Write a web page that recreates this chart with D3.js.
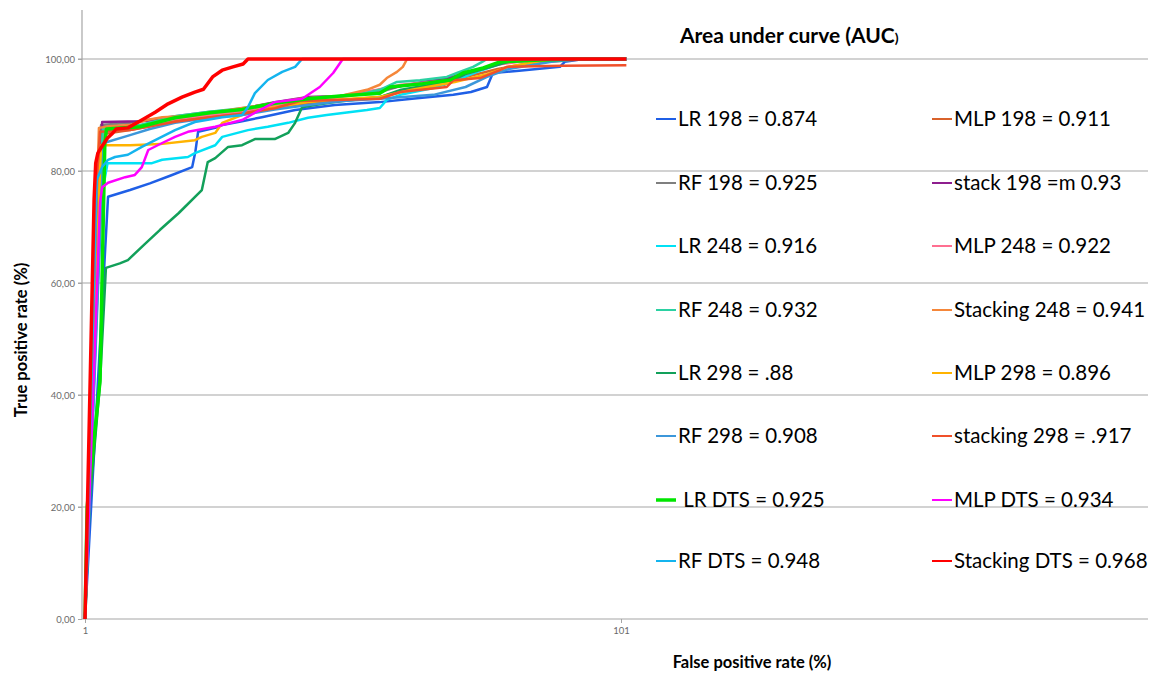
<!DOCTYPE html>
<html>
<head>
<meta charset="utf-8">
<script src="https://cdn.jsdelivr.net/npm/d3@7"></script>
<style>
  body { margin: 0; background: #fff; }
  svg { display: block; }
</style>
</head>
<body>
<svg id="chart" width="1150" height="674"></svg>
<script>
// ---- axis ticks ----
const yTicks = [0, 20, 40, 60, 80, 100];
const yTickLabels = ["0,00", "20,00", "40,00", "60,00", "80,00", "100,00"];
const xTicks = [1, 101];
const xTickLabels = ["1", "101"];

// ---- ROC curves: [false positive rate, true positive rate (%)] ----
const lr198 = [[1,0],[5.3,75.4],[9.4,76.6],[13.1,77.8],[17.0,79.2],[21.0,80.7],[21.6,83.5],[22.1,87.0],[25.3,87.7],[26.6,88.2],[30.3,88.9],[34.0,89.6],[40.2,90.9],[47.6,91.8],[56.0,92.3],[62.0,92.9],[69.7,93.6],[73.0,94.1],[76.0,95.0],[77.1,97.5],[82.0,97.9],[89.6,98.6],[90.5,99.5],[94.0,100],[102,100]];
const mlp198 = [[1,0],[4.4,86.6],[9.4,87.3],[13.1,88.0],[17.8,89.0],[24.3,89.8],[30.3,90.4],[36.4,91.4],[42.6,92.1],[49.0,92.7],[56.0,93.2],[60.0,94.3],[68.0,95.4],[72.0,96.8],[78.0,98.2],[84.0,99.3],[92.0,99.8],[96,100],[102,100]];
const rf198 = [[1,0],[4.0,88.2],[9.4,88.6],[17.8,89.8],[24.3,90.6],[30.3,91.0],[36.4,92.0],[42.6,93.0],[49.0,93.4],[56.0,94.1],[60.0,95.2],[69.1,96.5],[73.0,97.7],[78.4,99.3],[86.0,99.8],[90,100],[102,100]];
const stack198 = [[1,0],[4.2,88.75],[11.3,88.9],[14.1,89.1],[17.8,89.5],[24.3,90.4],[30.3,91.1],[36.4,92.3],[42.6,93.2],[48.6,93.4],[57.9,94.8],[64.0,95.9],[69.1,96.7],[76.0,98.6],[80.0,99.6],[88,100],[102,100]];
const lr248 = [[1,0],[4.0,75.0],[5.2,81.4],[13.5,81.4],[15.4,82.0],[20.2,82.5],[21.5,83.2],[25.3,84.6],[26.6,86.1],[31.4,87.3],[35.1,87.9],[38.9,88.6],[42.6,89.5],[46.1,90.0],[53.6,90.9],[56.0,91.25],[57.3,92.7],[59.8,93.6],[66.0,94.8],[71.0,96.5],[75.0,98.0],[79.0,99.3],[85.0,99.8],[90,100],[102,100]];
const mlp248 = [[1,0],[3.8,80.0],[4.5,87.0],[9.4,87.5],[17.8,89.3],[24.3,90.0],[30.3,90.7],[36.4,91.8],[42.6,92.5],[50.0,93.4],[56.0,94.6],[60.0,95.4],[69.1,96.2],[72.0,97.3],[78.0,99.0],[86.0,100],[102,100]];
const rf248 = [[1,0],[4.3,87.5],[11.3,88.2],[17.8,89.8],[24.3,90.6],[30.3,91.2],[36.4,92.1],[42.6,93.0],[52.0,93.6],[56.0,94.5],[59.2,95.9],[63.5,96.2],[68.5,96.8],[70.4,97.5],[73.4,98.6],[75.1,99.5],[76.0,100],[102,100]];
const stacking248 = [[1,0],[3.6,87.7],[5.5,88.0],[9.4,88.2],[12.5,89.1],[15.4,89.6],[20.2,89.8],[25.3,90.5],[30.3,91.25],[36.4,92.1],[41.1,92.9],[48.6,93.4],[53.6,94.5],[56.0,95.4],[57.3,96.6],[59.2,97.7],[60.3,98.6],[61.1,100],[102,100]];
const lr298 = [[1,0],[1.9,21.0],[3.8,42.1],[4.9,62.7],[7.5,63.5],[9.0,64.1],[12.0,66.8],[15.0,69.5],[18.5,72.5],[22.8,76.6],[23.9,81.6],[25.3,82.3],[27.7,84.3],[30.3,84.6],[32.7,85.7],[36.4,85.7],[38.9,86.8],[40.2,88.6],[41.5,91.4],[43.9,91.8],[47.6,92.3],[56.0,93.2],[60.0,94.5],[69.1,96.0],[72.0,97.3],[76.0,98.4],[80.0,99.5],[88,100],[102,100]];
const mlp298 = [[1,0],[3.4,70.0],[4.0,84.6],[9.4,84.6],[15.0,84.8],[21.5,85.5],[22.8,86.1],[25.3,86.8],[26.6,88.6],[30.3,90.0],[36.4,91.4],[42.6,92.3],[49.0,92.8],[56.0,93.2],[62.0,94.5],[70.0,95.9],[76.0,97.3],[80.0,98.6],[86.0,99.6],[92,100],[102,100]];
const rf298 = [[1,0],[4.5,85.0],[9.4,86.4],[13.1,87.5],[17.8,88.6],[24.3,89.5],[30.3,90.0],[36.4,91.0],[42.6,91.8],[49.0,92.5],[56.0,92.9],[66.0,93.6],[72.0,95.0],[76.0,96.8],[80.0,98.2],[88.0,99.5],[94,100],[102,100]];
const stacking298 = [[1,0],[3.3,80.0],[3.8,87.0],[9.4,87.3],[17.8,88.8],[24.3,89.6],[30.3,90.2],[36.4,91.2],[41.1,92.5],[56.0,92.9],[59.8,94.1],[68.5,95.0],[69.7,96.2],[74.7,96.6],[78.4,98.0],[79.7,98.6],[90.0,98.8],[102,98.9]];
const lrDTS = [[1,0],[1.4,20.0],[3.8,42.5],[4.7,85.0],[5.0,87.5],[11.3,87.9],[17.8,89.5],[24.3,90.4],[30.3,91.0],[36.4,92.1],[42.6,92.9],[48.6,93.4],[56.0,93.9],[57.9,95.0],[64.0,95.6],[69.1,96.25],[71.5,97.5],[75.3,98.4],[78.4,99.5],[85.9,99.8],[93.4,100],[102,100]];
const mlpDTS = [[1,0],[3.8,74.3],[4.2,77.1],[5.3,77.9],[8.5,78.9],[10.3,79.3],[11.6,80.7],[12.8,83.75],[15.4,85.0],[17.8,86.1],[20.2,87.0],[25.3,87.9],[30.3,89.1],[32.7,90.4],[36.4,92.3],[41.5,92.9],[44.8,95.0],[47.3,97.5],[49.1,100],[102,100]];
const rfDTS = [[1,0],[3.2,78.4],[4.2,80.7],[5.3,82.0],[6.6,82.5],[9.0,82.9],[11.6,84.3],[14.1,85.5],[17.8,87.3],[21.5,88.75],[26.6,89.6],[30.3,90.0],[31.4,91.4],[32.7,93.9],[35.1,96.25],[37.8,97.7],[40.2,98.6],[41.5,100],[102,100]];
const stackingDTS = [[1,0],[2.7,75.0],[3.0,81.4],[3.4,83.2],[4.3,84.6],[5.2,85.9],[6.2,86.8],[6.8,87.5],[9.0,87.7],[11.6,89.1],[14.1,90.5],[16.5,92.0],[19.1,93.2],[21.5,94.1],[23.1,94.6],[24.8,96.8],[26.6,98.0],[28.6,98.6],[30.5,99.1],[31.4,100],[102,100]];

// ---- legend labels (series order) ----
const seriesLabels = [
  "LR 198 = 0.874", "MLP 198 = 0.911",
  "RF 198 = 0.925", "stack 198 =m 0.93",
  "LR 248 = 0.916", "MLP 248 = 0.922",
  "RF 248 = 0.932", "Stacking 248 = 0.941",
  "LR 298 = .88", "MLP 298 = 0.896",
  "RF 298 = 0.908", "stacking 298 = .917",
  " LR DTS = 0.925", "MLP DTS = 0.934",
  "RF DTS = 0.948", "Stacking DTS = 0.968"
];
const seriesData = [lr198, mlp198, rf198, stack198, lr248, mlp248, rf248, stacking248,
                    lr298, mlp298, rf298, stacking298, lrDTS, mlpDTS, rfDTS, stackingDTS];

// ---- styling ----
const seriesColors = ["#1F5FE6", "#D9622B", "#7F7F7F", "#8E1E8E",
                      "#00E1F5", "#FF6F91", "#2BD1A2", "#F5873A",
                      "#12A05A", "#FFB300", "#3C97DA", "#F0502A",
                      "#00E600", "#FF00FF", "#14B4EE", "#FF0000"];
const seriesWidths = [2.5, 2.5, 2.5, 2.5, 2.5, 2.5, 2.5, 2.5,
                      2.5, 2.5, 2.5, 2.5, 3.5, 2.5, 2.5, 3.5];
const legendWidths = [2, 2, 2, 2, 2, 2, 2, 2, 2, 2, 2, 2, 3.5, 2, 2, 2];
const FONT = "Lato, 'Open Sans', sans-serif";

const svg = d3.select("#chart");

const x = d3.scaleLinear().domain([1, 101]).range([85, 621]);
const y = d3.scaleLinear().domain([0, 100]).range([619, 59]);
const axisX = 82;
const rightEdge = 1148;

// horizontal gridlines across the whole chart area
svg.append("g").selectAll("line")
  .data(yTicks.filter(v => v > 0))
  .join("line")
  .attr("x1", axisX - 4).attr("x2", rightEdge)
  .attr("y1", d => y(d)).attr("y2", d => y(d))
  .attr("stroke", "#a6a6a6").attr("stroke-width", 1.2);

// y axis line, ticks, labels
const yAxis = d3.axisLeft(y).tickValues(yTicks)
  .tickFormat((d, i) => yTickLabels[i]).tickSize(4).tickPadding(3);
const gy = svg.append("g").attr("transform", `translate(${axisX},0)`).call(yAxis);
gy.select(".domain").remove();
gy.selectAll(".tick line").attr("stroke", "#a6a6a6");
gy.selectAll(".tick text").attr("fill", "#6a6a6a").style("font-family", FONT).style("font-size", "9.5px");
svg.append("line").attr("x1", axisX).attr("x2", axisX)
  .attr("y1", 10).attr("y2", y(0))
  .attr("stroke", "#a6a6a6").attr("stroke-width", 1.2);

// x axis line, ticks, labels
svg.append("line").attr("x1", axisX).attr("x2", rightEdge)
  .attr("y1", y(0)).attr("y2", y(0))
  .attr("stroke", "#a6a6a6").attr("stroke-width", 1.2);
const xAxis = d3.axisBottom(x).tickValues(xTicks)
  .tickFormat((d, i) => xTickLabels[i]).tickSize(4).tickPadding(4);
const gx = svg.append("g").attr("transform", `translate(0,${y(0)})`).call(xAxis);
gx.select(".domain").remove();
gx.selectAll(".tick line").attr("stroke", "#a6a6a6");
gx.selectAll(".tick text").attr("fill", "#6a6a6a").style("font-family", FONT).style("font-size", "9.5px");

// axis titles
svg.append("text")
  .attr("transform", "translate(27,340) rotate(-90)")
  .attr("text-anchor", "middle")
  .style("font-family", FONT).style("font-weight", "bold").style("font-size", "16.5px")
  .attr("fill", "#000")
  .text("True positive rate (%)");
svg.append("text")
  .attr("x", 752).attr("y", 668)
  .attr("text-anchor", "middle")
  .style("font-family", FONT).style("font-weight", "bold").style("font-size", "16.5px")
  .attr("fill", "#000")
  .text("False positive rate (%)");

// ROC curves
const line = d3.line().x(d => x(d[0])).y(d => y(d[1]));
svg.append("g").attr("fill", "none")
  .selectAll("path")
  .data(seriesData)
  .join("path")
  .attr("d", line)
  .attr("stroke", (d, i) => seriesColors[i])
  .attr("stroke-width", (d, i) => seriesWidths[i])
  .attr("stroke-linejoin", "round");

// legend title
const title = svg.append("text")
  .attr("x", 680).attr("y", 43)
  .style("font-family", FONT).style("font-weight", "bold").style("font-size", "21px")
  .attr("fill", "#000");
title.append("tspan").text("Area under curve (AUC");
title.append("tspan").style("font-size", "14px").text(")");

// legend entries, two columns
const rowY = [126, 190, 253, 317, 380, 443, 507, 568];
const colX = [656, 932];
const leg = svg.append("g").selectAll("g")
  .data(seriesLabels)
  .join("g")
  .attr("transform", (d, i) => `translate(${colX[i % 2]},${rowY[Math.floor(i / 2)]})`);
leg.append("line")
  .attr("x1", 0).attr("x2", 20).attr("y1", -7).attr("y2", -7)
  .attr("stroke", (d, i) => seriesColors[i])
  .attr("stroke-width", (d, i) => legendWidths[i]);
leg.append("text")
  .attr("x", 22).attr("y", 0)
  .style("white-space", "pre")
  .style("font-family", FONT).style("font-size", "20.5px")
  .attr("fill", "#000")
  .text(d => d);
</script>
</body>
</html>
